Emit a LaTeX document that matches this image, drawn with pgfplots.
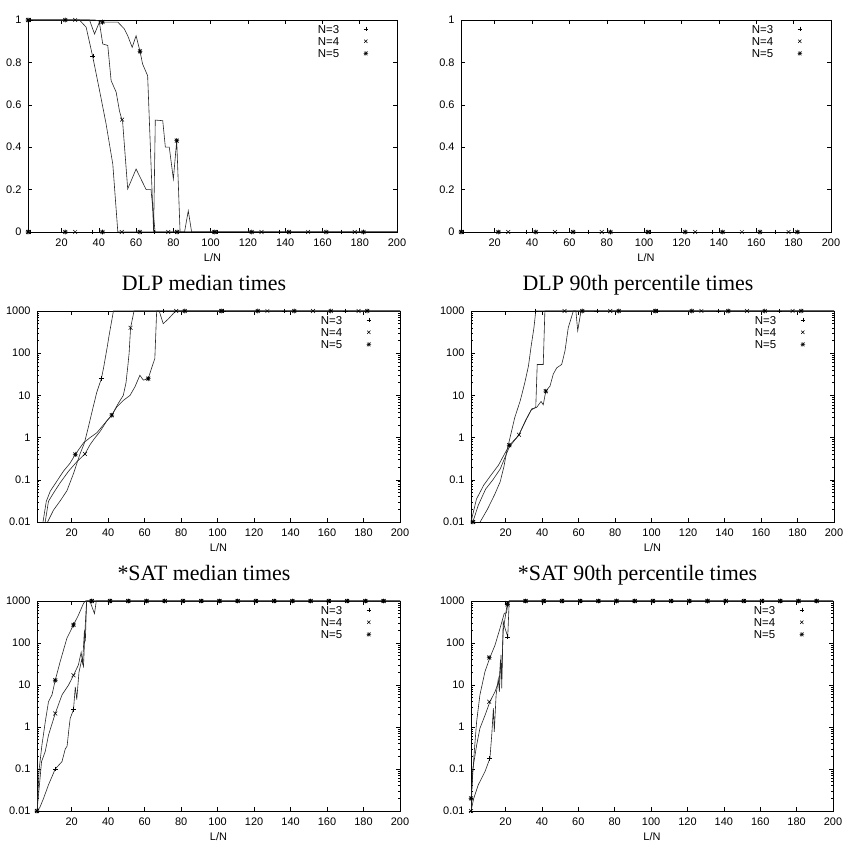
\documentclass[border=0pt]{standalone}
\usepackage{fontspec}
\setmainfont{Liberation Sans}
\newfontfamily\titlefont{Liberation Serif}
\usepackage{pgfplots}
\pgfplotsset{compat=1.18}

\pgfdeclareplotmark{gpstar}{%
  \pgfpathmoveto{\pgfqpoint{-\pgfplotmarksize}{0pt}}%
  \pgfpathlineto{\pgfqpoint{\pgfplotmarksize}{0pt}}%
  \pgfpathmoveto{\pgfqpoint{0pt}{-\pgfplotmarksize}}%
  \pgfpathlineto{\pgfqpoint{0pt}{\pgfplotmarksize}}%
  \pgfpathmoveto{\pgfqpoint{-.8\pgfplotmarksize}{-.8\pgfplotmarksize}}%
  \pgfpathlineto{\pgfqpoint{.8\pgfplotmarksize}{.8\pgfplotmarksize}}%
  \pgfpathmoveto{\pgfqpoint{-.8\pgfplotmarksize}{.8\pgfplotmarksize}}%
  \pgfpathlineto{\pgfqpoint{.8\pgfplotmarksize}{-.8\pgfplotmarksize}}%
  \pgfusepathqstroke}

\pgfplotsset{
  curve/.style={black!85, line width=0.6bp, no markers, forget plot},
  mA/.style={black, line width=0.5bp, only marks, mark=+, mark size=2.4bp, forget plot},
  mB/.style={black, line width=0.5bp, only marks, mark=x, mark size=2.7bp, forget plot},
  mC/.style={black, line width=0.6bp, only marks, mark=gpstar, mark size=2.4bp, forget plot},
  gpleg/.style={legend image code/.code={\path[draw=none,fill=none] (0bp,0bp) rectangle (30bp,7bp);
      \draw[black,line width=0.5bp] plot[mark=#1, mark size=2.3bp] coordinates {(26bp,1.2bp)};}},
  gpbase/.style={
    scale only axis, anchor=south west,
    xmax=200, xtick={20,40,60,80,100,120,140,160,180,200},
    xticklabels={20,40,60,80,100,120,140,160,180,200},
    tick align=inside, major tick length=4bp, minor tick length=2bp,
    every tick/.style={black, line width=0.5bp},
    axis line style={line width=0.6bp},
    tick label style={font=\fontsize{11}{13}\selectfont},
    yticklabel style={xshift=-3bp}, xticklabel style={yshift=-3bp},
    xlabel={L/N},
    xlabel style={font=\fontsize{11}{13}\selectfont, at={(axis description cs:0.5,0)}, anchor=center, yshift=-26bp},
    title style={font=\titlefont\fontsize{22}{26}\selectfont, at={(axis description cs:0.46,1)}, anchor=base, yshift=14.5bp},
    clip mode=individual,
    legend style={draw=none, fill=none, at={(1,1)}, anchor=north east, xshift=-27bp, yshift=-3bp,
      inner sep=0pt, font=\fontsize{11.5}{13}\selectfont, row sep=0bp, nodes={inner sep=0.5bp}},
    legend cell align=right, legend plot pos=right,
  },
  gplin/.style={gpbase, xmin=2, ymin=0, ymax=1, ytick={0,0.2,0.4,0.6,0.8,1},
    yticklabels={0,0.2,0.4,0.6,0.8,1}},
  gplogticks/.style={gpbase, xmin=1,
    ytick={0.01,0.1,1,10,100,1000}, yticklabels={0.01,0.1,1,10,100,1000},
    minor ytick={0.02,0.03,0.04,0.05,0.06,0.07,0.08,0.09,0.2,0.3,0.4,0.5,0.6,0.7,0.8,0.9,2,3,4,5,6,7,8,9,20,30,40,50,60,70,80,90,200,300,400,500,600,700,800,900}},
}

\newcommand{\gplegend}{%
  \addlegendimage{gpleg=+}\addlegendentry{N=3}
  \addlegendimage{gpleg=x}\addlegendentry{N=4}
  \addlegendimage{gpleg=gpstar}\addlegendentry{N=5}}

\begin{document}
\begin{tikzpicture}
\useasboundingbox (0,0) rectangle (848bp,842bp);

% ---------- Panel A ----------
\begin{axis}[gplin, at={(28bp,610bp)}, width=369bp, height=212bp]
\gplegend
\addplot[curve] coordinates {(2,0)(200,0)};
\addplot[curve] coordinates {(2,1)(29.6,1)(33.2,0.966)(36.8,0.824)(40.4,0.667)(43.9,0.51)(47.5,0.32)(50.2,0)(200,0)};
\addplot[curve] coordinates {(2,1)(35,1)(37.7,0.934)(40.3,0.99)(42.1,0.887)(44.8,0.88)(46.6,0.714)(49.3,0.66)(51.1,0.57)(52.8,0.517)(55.5,0.203)(60,0.297)(65.4,0.2)(68,0.2)(70.2,0)(200,0)};
\addplot[curve] coordinates {(2,1)(38,1)(42,0.99)(50.2,0.99)(53.7,0.958)(55.5,0.926)(57.9,0.871)(60,0.926)(62.1,0.852)(63.5,0.792)(66.2,0.737)(69.4,0)(70.3,0.528)(74.3,0.525)(75.7,0.4)(77.8,0.4)(80,0.25)(81.8,0.431)(83.6,0)(86,0)(88,0.1)(89.8,0)(200,0)};
\addplot[mA] coordinates {(3.3,1)(36.8,0.83)(3.3,0)(36.7,0)(70,0)(103.3,0)(136.7,0)(170,0)};
\addplot[mB] coordinates {(2.3,1)(27.3,1)(52.5,0.53)(2.3,0)(27.3,0)(52.3,0)(77.3,0)(102.3,0)(127.3,0)(152.3,0)(177.3,0)};
\addplot[mC] coordinates {(2,1)(22,1)(42,0.99)(62.1,0.852)(81.8,0.431)(2,0)(22,0)(42,0)(62,0)(82,0)(102,0)(122,0)(142,0)(162,0)(182,0)};
\end{axis}

% ---------- Panel B ----------
\begin{axis}[gplin, at={(461bp,610bp)}, width=370bp, height=212bp]
\gplegend
\addplot[curve] coordinates {(2,0)(200,0)};
\addplot[mA] coordinates {(3.3,0)(36.7,0)(70,0)(103.3,0)(136.7,0)(170,0)};
\addplot[mB] coordinates {(2.3,0)(27.3,0)(52.3,0)(77.3,0)(102.3,0)(127.3,0)(152.3,0)(177.3,0)};
\addplot[mC] coordinates {(2,0)(22,0)(42,0)(62,0)(82,0)(102,0)(122,0)(142,0)(162,0)(182,0)};
\end{axis}

% ---------- Panel C ----------
\begin{axis}[ymode=log, ymin=0.01, ymax=1000, gplogticks, at={(37bp,320bp)}, width=363bp, height=211bp, title={DLP median times}]
\gplegend
\addplot[curve] coordinates {(6.8,0.01)(10,0.019)(14,0.033)(17.4,0.055)(21,0.14)(24.5,0.4)(27,0.75)(29.2,1.8)(31.1,4)(33.8,12)(36.3,25)(37.5,45)(39.5,140)(40.5,260)(42.9,1000)(200,1000)};
\addplot[curve] coordinates {(5.5,0.01)(7.3,0.031)(10.1,0.049)(13.7,0.085)(18.3,0.16)(22.9,0.27)(27.3,0.41)(30.1,0.68)(32.5,0.95)(35.6,1.4)(39.3,2.5)(42,3.4)(45.6,6.5)(48.3,10)(49.8,20)(50.8,50)(51.5,100)(52.3,400)(54.2,1000)(200,1000)};
\addplot[curve] coordinates {(4.3,0.01)(6.1,0.031)(8.3,0.054)(11.9,0.093)(15.5,0.16)(19.2,0.25)(22,0.4)(26.5,0.75)(30.1,1.0)(33.8,1.3)(37.4,2.0)(42,3.4)(44.7,5.3)(48.3,7.6)(52,10)(54.7,16)(57.4,30)(59.3,23)(62,25)(63.8,44)(65.6,75)(66.6,1000)(68,1000)(70.2,500)(73,650)(75.6,860)(77,1000)(200,1000)};
\addplot[mA] coordinates {(36.3,25)(70,1000)(103.3,1000)(136.7,1000)(170,1000)};
\addplot[mB] coordinates {(27.3,0.41)(52.3,400)(77.3,1000)(102.3,1000)(127.3,1000)(152.3,1000)(177.3,1000)};
\addplot[mC] coordinates {(22,0.4)(42,3.4)(62,25)(82,1000)(102,1000)(122,1000)(142,1000)(162,1000)(182,1000)};
\end{axis}

% ---------- Panel D ----------
\begin{axis}[ymode=log, ymin=0.01, ymax=1000, gplogticks, at={(471bp,320bp)}, width=363bp, height=211bp, title={DLP 90th percentile times}]
\gplegend
\addplot[curve] coordinates {(6,0.01)(10,0.02)(14,0.045)(17,0.09)(19,0.2)(20.5,0.45)(22.4,1.0)(25,3)(28,7.5)(30.5,20)(32.5,50)(34,150)(35.5,400)(36.5,1000)(200,1000)};
\addplot[curve] coordinates {(2,0.01)(5,0.025)(9,0.06)(13,0.1)(17,0.18)(22,0.6)(27.3,1.17)(31,2.6)(34,4.5)(36.5,5.2)(37.3,54)(40.6,54)(41.5,1000)(200,1000)};
\addplot[curve] coordinates {(1,0.01)(4,0.035)(8,0.075)(12,0.13)(16,0.22)(22,0.66)(27,1.1)(31.5,2.8)(34.3,4.8)(37,5.2)(39.4,7.2)(40.6,6.0)(42,12.6)(44.3,16.6)(46.1,32)(48,45)(50.7,54)(52.5,112)(54.3,400)(57.1,1000)(58.5,1000)(59.5,340)(61.3,1000)(200,1000)};
\addplot[mA] coordinates {(36.3,1000)(70,1000)(103.3,1000)(136.7,1000)(170,1000)};
\addplot[mB] coordinates {(2.3,0.01)(27.3,1.17)(52.3,1000)(77.3,1000)(102.3,1000)(127.3,1000)(152.3,1000)(177.3,1000)};
\addplot[mC] coordinates {(2,0.01)(22,0.66)(42,12.6)(62,1000)(82,1000)(102,1000)(122,1000)(142,1000)(162,1000)(182,1000)};
\end{axis}

% ---------- Panel E ----------
\begin{axis}[ymode=log, ymin=0.01, ymax=1000, gplogticks, at={(37bp,31bp)}, width=363bp, height=210bp, title={*SAT median times}]
\gplegend
\addplot[curve] coordinates {(1,0.01)(2.5,0.012)(4.6,0.02)(7.3,0.042)(11,0.1)(14.7,0.15)(16.5,0.3)(17.5,0.35)(18.5,0.9)(19.2,1.6)(21,2.6)(22,9)(22.8,4.5)(24,20)(25.5,40)(26.5,28)(27.3,200)(28.2,1000)(200,1000)};
\addplot[curve] coordinates {(1,0.01)(2.5,0.05)(3.5,0.15)(5.5,0.26)(7.3,0.64)(11,2.1)(14.7,5.8)(18.3,10)(21,17)(23.7,30)(25.2,60)(26,35)(27,200)(27.5,110)(28.2,1000)(30,1000)(32.5,500)(33.5,1000)(200,1000)};
\addplot[curve] coordinates {(1,0.01)(2.2,0.1)(3.7,0.37)(5.5,1.3)(7.3,4)(9.2,5.8)(11,13)(13.7,36)(17.4,130)(21,270)(23.7,460)(26.5,880)(27.5,1000)(200,1000)};
\addplot[mA] coordinates {(1,0.01)(11,0.1)(21,2.6)(31,1000)(41,1000)(51,1000)(61,1000)(71,1000)(81,1000)(91,1000)(101,1000)(111,1000)(121,1000)(131,1000)(141,1000)(151,1000)(161,1000)(171,1000)(181,1000)(191,1000)};
\addplot[mB] coordinates {(1,0.01)(11,2.1)(21,17)(31,1000)(41,1000)(51,1000)(61,1000)(71,1000)(81,1000)(91,1000)(101,1000)(111,1000)(121,1000)(131,1000)(141,1000)(151,1000)(161,1000)(171,1000)(181,1000)(191,1000)};
\addplot[mC] coordinates {(1,0.01)(11,13)(21,270)(31,1000)(41,1000)(51,1000)(61,1000)(71,1000)(81,1000)(91,1000)(101,1000)(111,1000)(121,1000)(131,1000)(141,1000)(151,1000)(161,1000)(171,1000)(181,1000)(191,1000)};
\end{axis}

% ---------- Panel F ----------
\begin{axis}[ymode=log, ymin=0.01, ymax=1000, gplogticks, at={(471bp,31bp)}, width=362bp, height=210bp, title={*SAT 90th percentile times}]
\gplegend
\addplot[curve] coordinates {(1,0.01)(2.5,0.02)(5,0.042)(8.7,0.087)(11.4,0.18)(12.4,0.64)(13.3,2.8)(13.8,0.77)(14.8,5.8)(16,14)(16.6,6.9)(17.5,52)(17.9,8.3)(18.7,320)(19.7,224)(21.2,140)(22,1000)(200,1000)};
\addplot[curve] coordinates {(1,0.01)(2,0.1)(4.1,0.37)(5.9,0.93)(8.7,1.9)(11.4,4)(14.2,6.9)(15.5,10)(16.5,12)(17.2,40)(17.8,15)(18.7,200)(20.1,500)(21,900)(22,1000)(200,1000)};
\addplot[curve] coordinates {(1,0.02)(2,0.08)(2.8,0.26)(4.1,1.35)(5.9,5.8)(8.7,21)(11.4,45)(14.2,89)(16.9,220)(19.3,510)(20.5,520)(21.2,830)(22,1000)(200,1000)};
\addplot[mA] coordinates {(1,0.01)(11,0.18)(21,140)(31,1000)(41,1000)(51,1000)(61,1000)(71,1000)(81,1000)(91,1000)(101,1000)(111,1000)(121,1000)(131,1000)(141,1000)(151,1000)(161,1000)(171,1000)(181,1000)(191,1000)};
\addplot[mB] coordinates {(1,0.01)(11,4)(21,900)(31,1000)(41,1000)(51,1000)(61,1000)(71,1000)(81,1000)(91,1000)(101,1000)(111,1000)(121,1000)(131,1000)(141,1000)(151,1000)(161,1000)(171,1000)(181,1000)(191,1000)};
\addplot[mC] coordinates {(1,0.02)(11,45)(21,830)(31,1000)(41,1000)(51,1000)(61,1000)(71,1000)(81,1000)(91,1000)(101,1000)(111,1000)(121,1000)(131,1000)(141,1000)(151,1000)(161,1000)(171,1000)(181,1000)(191,1000)};
\end{axis}
\end{tikzpicture}
\end{document}
